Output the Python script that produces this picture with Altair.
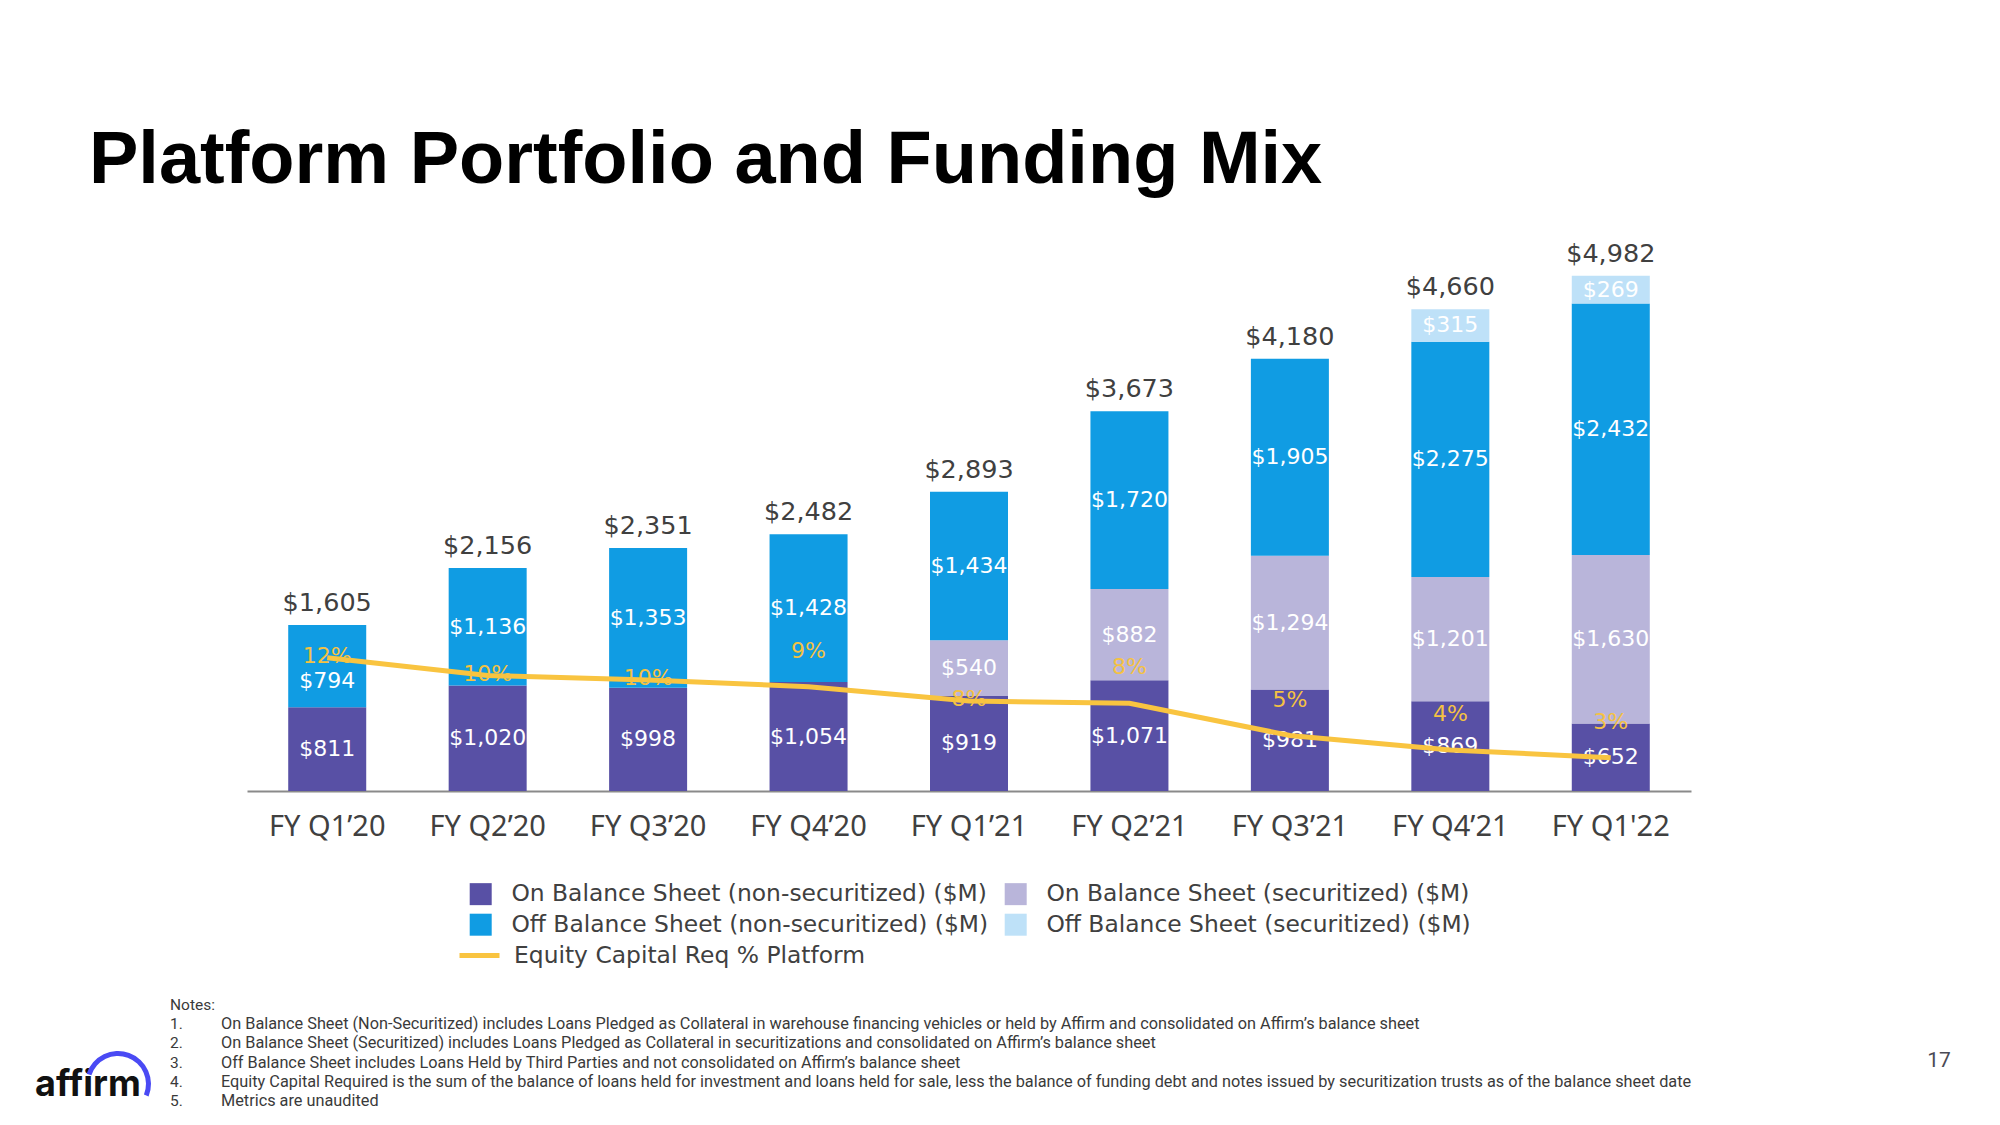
import altair as alt
import pandas as pd

quarters = ["FY Q1’20", "FY Q2’20", "FY Q3’20", "FY Q4’20", "FY Q1’21",
            "FY Q2’21", "FY Q3’21", "FY Q4’21", "FY Q1'22"]
series = ["On Balance Sheet (non-securitized) ($M)",
          "On Balance Sheet (securitized) ($M)",
          "Off Balance Sheet (non-securitized) ($M)",
          "Off Balance Sheet (securitized) ($M)"]
on_nonsec = [811, 1020, 998, 1054, 919, 1071, 981, 869, 652]
on_sec = [0, 0, 0, 0, 540, 882, 1294, 1201, 1630]
off_nonsec = [794, 1136, 1353, 1428, 1434, 1720, 1905, 2275, 2432]
off_sec = [0, 0, 0, 0, 0, 0, 0, 315, 269]
totals = [1605, 2156, 2351, 2482, 2893, 3673, 4180, 4660, 4982]
equity_pct = [12.0, 10.4, 10.0, 9.4, 8.1, 7.9, 5.0, 3.7, 3.0]
equity_labels = ["12%", "10%", "10%", "9%", "8%", "8%", "5%", "4%", "3%"]
labels_above_line = ["FY Q4’20", "FY Q2’21", "FY Q3’21", "FY Q4’21", "FY Q1'22"]
lowered_value_labels = [("FY Q1’20", "Off Balance Sheet (non-securitized) ($M)")]
line_name = "Equity Capital Req % Platform"
colors = ["#5850A5", "#B9B5DA", "#109CE3", "#BEE1F8"]
line_color = "#F9C440"
# legend reads row-wise: On non-sec, On sec / Off non-sec, Off sec (grid fills column-wise)
legend_order = [0, 2, 1, 3]

title_text = "Platform Portfolio and Funding Mix"
notes_nums = ["Notes:", "1.", "2.", "3.", "4.", "5."]
notes_text = [
    "On Balance Sheet (Non-Securitized) includes Loans Pledged as Collateral in warehouse financing vehicles or held by Affirm and consolidated on Affirm’s balance sheet",
    "On Balance Sheet (Securitized) includes Loans Pledged as Collateral in securitizations and consolidated on Affirm’s balance sheet",
    "Off Balance Sheet includes Loans Held by Third Parties and not consolidated on Affirm’s balance sheet",
    "Equity Capital Required is the sum of the balance of loans held for investment and loans held for sale, less the balance of funding debt and notes issued by securitization trusts as of the balance sheet date",
    "Metrics are unaudited",
]
page_number = "17"
logo_text = "affirm"

# ---- tables ----
rows = []
for i, q in enumerate(quarters):
    for k, (s, vals) in enumerate(zip(series, [on_nonsec, on_sec, off_nonsec, off_sec])):
        rows.append({"quarter": q, "series": s, "idx": k, "value": vals[i],
                     "label": f"${vals[i]:,}",
                     "lowered": (q, s) in lowered_value_labels})
bars_df = pd.DataFrame(rows)
tot_df = pd.DataFrame({"quarter": quarters, "total": totals,
                       "label": [f"${t:,}" for t in totals]})
line_df = pd.DataFrame({"quarter": quarters, "pct": equity_pct, "plabel": equity_labels,
                        "name": [line_name] * len(quarters),
                        "above": [q in labels_above_line for q in quarters]})

W, H = 1444, 517
NUM = "DejaVu Sans"

xenc = alt.X("quarter:N", sort=quarters, title=None,
             scale=alt.Scale(paddingInner=0, paddingOuter=0),
             axis=alt.Axis(labelAngle=0, labelFont="Noto Sans", labelFontSize=29,
                           labelColor="#404040", ticks=False, domainColor="#8a8a8a",
                           domainWidth=2, labelPadding=21, grid=False))
ysc = alt.Scale(domain=[0, 5000], nice=False)

bars = alt.Chart(bars_df).mark_bar(size=78).encode(
    x=xenc,
    y=alt.Y("value:Q", stack="zero", scale=ysc, axis=None),
    color=alt.Color("series:N",
                    scale=alt.Scale(domain=[series[i] for i in legend_order],
                                    range=[colors[i] for i in legend_order]),
                    legend=alt.Legend(title=None, orient="none", legendX=222, legendY=608,
                                      columns=2, symbolType="square", symbolSize=484,
                                      symbolStrokeWidth=0, labelFont=NUM, labelFontSize=23.4,
                                      labelColor="#404040", columnPadding=15, rowPadding=6,
                                      labelOffset=19, padding=0, labelLimit=700)),
    order=alt.Order("idx:Q", sort="ascending"),
)

stacked = alt.Chart(bars_df).transform_stack(
    stack="value", groupby=["quarter"], sort=[alt.SortField("idx", order="ascending")],
    as_=["y0", "y1"]
).transform_calculate(mid="(datum.y0 + datum.y1) / 2").transform_filter(
    "datum.value > 0"
)
inner = stacked.transform_filter("!datum.lowered").mark_text(
    font=NUM, fontSize=22, color="white", baseline="middle").encode(
    x=xenc, y=alt.Y("mid:Q", scale=ysc, axis=None), text="label:N")
inner_low = stacked.transform_filter("datum.lowered").mark_text(
    font=NUM, fontSize=22, color="white", baseline="middle", dy=15).encode(
    x=xenc, y=alt.Y("mid:Q", scale=ysc, axis=None), text="label:N")

tot = alt.Chart(tot_df).mark_text(font=NUM, fontSize=25.5, color="#404040",
                                  baseline="bottom", dy=-9).encode(
    x=xenc,
    y=alt.Y("total:Q", scale=ysc, axis=None),
    text="label:N",
)

psc = alt.Scale(domain=[0, H / 11.1], nice=False)
line = alt.Chart(line_df).mark_line(strokeWidth=5).encode(
    x=xenc,
    y=alt.Y("pct:Q", scale=psc, axis=None),
    stroke=alt.Stroke("name:N", scale=alt.Scale(domain=[line_name], range=[line_color]),
                      legend=alt.Legend(title=None, orient="none", legendX=210, legendY=659,
                                        symbolType="stroke", symbolSize=1600,
                                        symbolStrokeWidth=5, labelFont=NUM,
                                        labelFontSize=23.4, labelColor="#404040",
                                        labelOffset=12, padding=0, labelLimit=700)),
)
plab_on = alt.Chart(line_df).transform_filter("!datum.above").mark_text(
    font=NUM, fontSize=22, color="#F5C242", baseline="middle", dy=-2).encode(
    x=xenc, y=alt.Y("pct:Q", scale=psc, axis=None), text="plabel:N")
plab_up = alt.Chart(line_df).transform_filter("datum.above").mark_text(
    font=NUM, fontSize=22, color="#F5C242", baseline="middle", dy=-36).encode(
    x=xenc, y=alt.Y("pct:Q", scale=psc, axis=None), text="plabel:N")

one = pd.DataFrame({"t": [0]})
title = alt.Chart(one).mark_text(text=title_text, font="Liberation Sans", fontWeight="bold",
                                 fontSize=74, color="#000000", align="left",
                                 baseline="alphabetic").encode(
    x=alt.value(-158), y=alt.value(-91))
notes_a = alt.Chart(one).mark_text(text=notes_nums, font="Roboto", fontSize=15.5,
                                   color="#3a3a3a", align="left", baseline="alphabetic",
                                   lineHeight=19.2).encode(
    x=alt.value(-77), y=alt.value(736))
notes_b = alt.Chart(one).mark_text(text=notes_text, font="Roboto", fontSize=16.3,
                                   color="#3a3a3a", align="left", baseline="alphabetic",
                                   lineHeight=19.2).encode(
    x=alt.value(-26), y=alt.value(755.2))
pnum = alt.Chart(one).mark_text(text=page_number, font="Roboto", fontSize=21,
                                color="#4a4a55", align="center", baseline="middle").encode(
    x=alt.value(1692), y=alt.value(787))
logo = alt.Chart(one).mark_text(text=logo_text, font="Inter", fontWeight="bold",
                                fontSize=36, color="#111111", align="left",
                                baseline="alphabetic").encode(
    x=alt.value(-212), y=alt.value(822))
arc = alt.Chart(one).mark_arc(color="#4A4AF4", theta=5.03, theta2=8.24,
                              radius=33, radius2=28).encode(
    x=alt.value(-129), y=alt.value(810))

chart = alt.layer(
    alt.layer(bars, inner, inner_low, tot),
    alt.layer(line, plab_on, plab_up),
    title, notes_a, notes_b, pnum, logo, arc,
).resolve_scale(y="independent").properties(
    width=W, height=H,
    padding={"left": 239, "top": 266, "right": 301, "bottom": 326},
    autosize=alt.AutoSizeParams(type="none"),
    background="white",
).configure_view(stroke=None)

chart.save("out.html", embed_options={"renderer": "svg", "actions": False})
